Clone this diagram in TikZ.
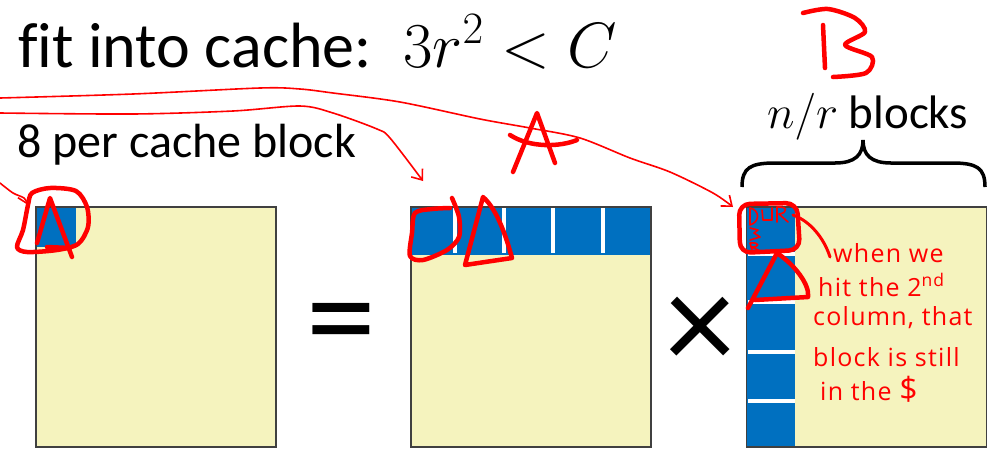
\documentclass[tikz,border=0pt]{standalone}
\usepackage{fix-cm}
\usepackage{fontspec}
\setmainfont{Carlito}[Ligatures=NoCommon]
\newfontfamily\hand{Open Sans}[LetterSpace=5]
\usetikzlibrary{arrows.meta}
\definecolor{matyellow}{HTML}{F5F3BE}
\definecolor{matblue}{HTML}{0070C0}
\definecolor{matline}{HTML}{404040}
\definecolor{ink}{HTML}{FF0000}
\begin{document}
\begin{tikzpicture}[x=1pt,y=-1pt,
  mat/.style={draw=matline, fill=matyellow, line width=1.4pt, minimum width=240pt, minimum height=240pt, inner sep=0pt, outer sep=0pt},
  blk/.style={fill=matblue, draw=none},
  gap/.style={fill=white, draw=none},
  pen/.style={draw=ink, line width=4.5pt, line cap=round, line join=round},
  penmid/.style={draw=ink, line width=3pt, line cap=round, line join=round},
  thin/.style={draw=ink, line width=1.6pt, line cap=round, line join=round},
  barb/.style={-{Straight Barb[length=9pt,width=14pt]}},
  big/.style={font=\fontsize{64}{76}\selectfont, inner sep=0pt, anchor=base west},
  mid/.style={font=\fontsize{48}{58}\selectfont, inner sep=0pt, anchor=base west},
  op/.style={font=\fontsize{140}{160}\selectfont, inner sep=0pt},
  hw/.style={text=ink, font=\hand\fontsize{25}{30}\selectfont, inner sep=0pt, anchor=base west}]
\fill[white] (0,0) rectangle (987,448);
\useasboundingbox (0,0) rectangle (987,448);

% texts
\node[big] (title) at (18,67) {fit into cache:};
\node[big] (ineq) at (403,67) {$3r^{2}<C$};
\node[mid] (sub) at (17,157) {8 per cache block};
\node[mid, font=\fontsize{47}{56}\selectfont] (nr) at (767,128) {$n/r$ blocks};

% matrices
\node[mat] (C) at (156,327) {};
\node[mat] (A) at (531,327) {};
\node[mat] (B) at (866.5,327) {};

\fill[blk] (36.7,207.7) rectangle (76,247);
\fill[blk] (411.7,207.7) rectangle (650.3,255);
\foreach \x in {453,502,551,601} \fill[gap] (\x,207.7) rectangle (\x+4,253);
\fill[blk] (747.2,207.7) rectangle (795,446.3);
\foreach \y in {252,300,350,399} \fill[gap] (748,\y) rectangle (795,\y+4);

% operators
\node[op] (eq) at (341,333) {=};
\node[op] (times) at (700,333.5) {×};

% brace
\draw[line width=3.5pt] (742,187) .. controls (742,168) and (750,163) .. (775,163) -- (835,163) .. controls (855,163) and (863,155) .. (863,140) .. controls (863,155) and (871,163) .. (891,163) -- (952,163) .. controls (977,163) and (985,168) .. (985,187);

% red long arrows
\coordinate (tipB) at (733,207);
\coordinate (tipA) at (423,181);
\coordinate (tipC) at (28,205);
\draw[thin,barb] plot[smooth] coordinates {(0,98) (133,94) (260,88) (300,89) (333,93) (400,102) (480,119) (530,128) (580,138) (630,158) (670,172) (713,193) (tipB)};
\draw[thin,barb] plot[smooth] coordinates {(0,113) (133,114) (233,111) (300,106) (333,113) (377,129) (390,138) (tipA)};
\draw[thin,barb] plot[smooth] coordinates {(0,183) (13,193) (24,198) (tipC)};

% left matrix annotation
\draw[pen] plot[smooth cycle] coordinates {(32,193) (50,188) (76,191) (87,207) (88,227) (78,244) (57,250) (27,252) (17,247) (23,230) (28,205)};
\draw[pen] (37,243) -- (50,198) -- (72,257);
\draw[pen] (47,247) -- (70,248);

% middle matrix annotation
\draw[pen] plot[smooth] coordinates {(452,198) (459,217) (459,237) (447,250) (423,260) (410,256) (412,233) (415,213) (432,209) (450,208)};
\draw[pen] (483,197) -- (465,265) -- (512,258) .. controls (507,240) and (498,210) .. cycle;
\draw[pen] (513,172) -- (537,113) -- (555,163);
\draw[pen] (510,135) .. controls (530,148) and (560,147) .. (577,140);

% B letter
\draw[pen] (823,25) -- (825,68);
\draw[pen] plot[smooth] coordinates {(803,13) (828,9) (855,18) (865,32) (845,45) (872,57) (866,73) (833,77)};

% right matrix annotation
\draw[pen, rounded corners=11pt] (739,204) -- (797,203) -- (800,250) -- (740,253) -- cycle;
\draw[pen] (748,308) -- (777,253) .. controls (795,265) and (810,285) .. (808,297) -- (755,300);
\draw[penmid] (793,215) .. controls (810,221) and (824,238) .. (830,257);
% scribbles
\draw[thin] (750,208) -- (750,225) (750,208) .. controls (760,210) and (760,222) .. (750,225);
\draw[thin] (762,210) -- (763,220) -- (772,220) -- (772,208);
\draw[thin] (777,207) -- (777,222) (777,207) .. controls (788,206) and (788,213) .. (779,214) -- (788,222);
\draw[thin] (750,228) -- (758,230) -- (754,233) -- (760,237) -- (750,240);
\draw[thin] (750,243) -- (752,250) (750,243) .. controls (760,242) and (760,247) .. (752,247) -- (760,251);

% handwriting
\node[hw] (h1) at (833,262) {when we};
\node[hw] (h2) at (818,296) {hit the 2\textsuperscript{nd}};
\node[hw] (h3) at (813,325) {column, that};
\node[hw] (h4) at (813,366) {block is still};
\node[hw] (h5) at (820,400) {in the {\fontsize{32}{32}\selectfont\$}};
\end{tikzpicture}
\end{document}
